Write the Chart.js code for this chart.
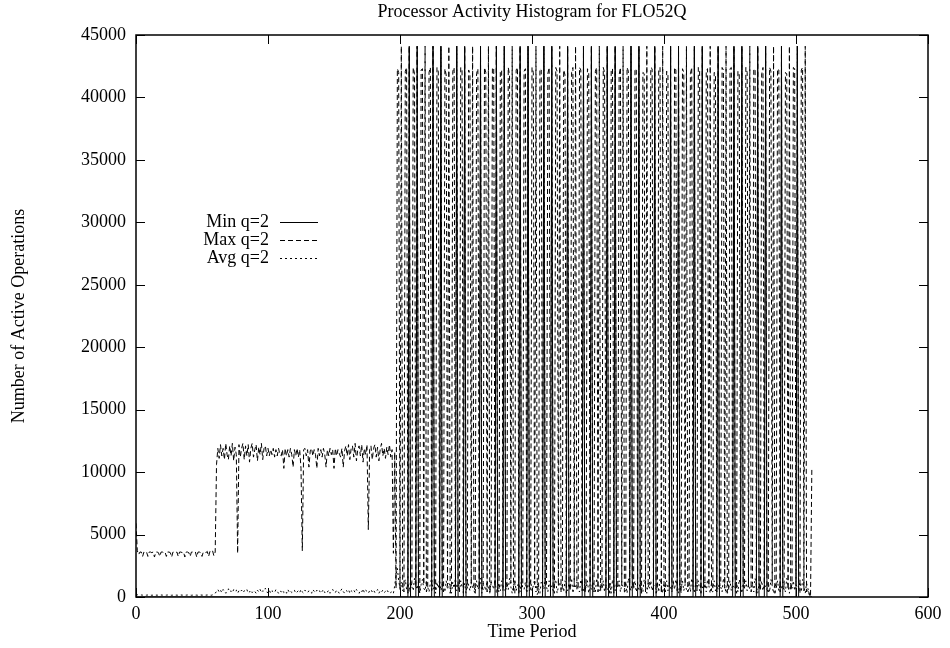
<!DOCTYPE html>
<html>
<head>
<meta charset="utf-8">
<title>Processor Activity Histogram for FLO52Q</title>
<script src="https://cdn.jsdelivr.net/npm/chart.js@4.4.1/dist/chart.umd.min.js"></script>
<style>
  html, body { margin: 0; padding: 0; background: #fff; }
  #wrap { width: 950px; height: 648px; }
</style>
</head>
<body>
<div id="wrap"><canvas id="activityChart" width="950" height="648"></canvas></div>
<script>
const chartTitle = 'Processor Activity Histogram for FLO52Q';
const xAxisTitle = 'Time Period';
const yAxisTitle = 'Number of Active Operations';
const seriesNames = ['Min q=2', 'Max q=2', 'Avg q=2'];
const xTicks = [0, 100, 200, 300, 400, 500, 600];
const yTicks = [0, 5000, 10000, 15000, 20000, 25000, 30000, 35000, 40000, 45000];

// one sample per time period, 0 .. 512
const timePeriods = Array.from({ length: 513 }, (_, i) => i);

const maxValues = [
  5900, 3700, 3400, 3600, 3600, 3250, 3600, 3550, 3600, 3250,
  3600, 3600, 3550, 3600, 3200, 3600, 3600, 3550, 3250, 3600,
  3600, 3550, 3600, 3250, 3600, 3600, 3550, 3200, 3600, 3600,
  3550, 3600, 3250, 3600, 3600, 3550, 3600, 3200, 3600, 3600,
  3550, 3250, 3600, 3600, 3550, 3600, 3200, 3600, 3600, 3550,
  3250, 3600, 3600, 3550, 3650, 3250, 3650, 3600, 3700, 3300,
  3600, 10600, 11900, 11100, 12200, 11300, 11900, 11000, 12300, 11400,
  11000, 12100, 11300, 12300, 10900, 12000, 11400, 3500, 12200, 11200,
  11900, 12300, 11000, 12100, 11300, 12200, 10800, 11900, 12300, 11200,
  11800, 12200, 10900, 12000, 11400, 12300, 11000, 11900, 12100, 11300,
  11900, 11300, 11800, 11400, 11900, 11200, 11800, 11300, 11900, 11400,
  11300, 11800, 10300, 11900, 11300, 11800, 11200, 11900, 11400, 10400,
  11800, 11300, 11900, 11200, 11800, 10300, 3700, 11800, 11900, 11300,
  11800, 10400, 11700, 11900, 11300, 11800, 11400, 10300, 11900, 11300,
  11800, 11200, 11900, 11400, 10400, 11800, 11300, 11900, 11400, 11800,
  10300, 11900, 11300, 11800, 11500, 11200, 11900, 10400, 11700, 12100,
  11300, 12200, 11000, 11900, 12100, 11200, 12300, 10900, 11800, 12100,
  11300, 12200, 10800, 11900, 11400, 12200, 5400, 11800, 12100, 11000,
  11900, 12200, 11200, 12000, 10900, 11800, 12300, 11300, 11900, 11100,
  12000, 11400, 12200, 11200, 11800, 3500, 11600, 700,
  // from period 198 the load swings every few periods
  42300, 42000, 600, 44100, 900, 400,
  42100, 42400, 300, 44100, 700, 1100,
  42400, 41900, 800, 44100, 500, 300,
  42200, 42300, 1000, 44100, 400, 800,
  42000, 42400, 500, 44100, 1100, 600,
  42400, 42100, 200, 44100, 800, 400,
  42300, 41800, 900, 44100, 300, 1000,
  42100, 42400, 600, 44100, 700, 500,
  42400, 42200, 300, 44100, 1200, 700,
  42200, 41900, 1000, 44100, 500, 300,
  41900, 42300, 700, 44100, 900, 600,
  42400, 42000, 400, 44100, 300, 1100,
  42300, 42400, 800, 44100, 600, 400,
  42000, 42200, 500, 44100, 1000, 700,
  42400, 41800, 1100, 44100, 400, 300,
  42200, 42400, 300, 44100, 800, 900,
  42100, 42300, 700, 44100, 500, 600,
  42400, 42000, 1000, 44100, 200, 400,
  42300, 42200, 400, 44100, 900, 1100,
  41900, 42400, 600, 44100, 700, 300,
  42400, 42100, 900, 44100, 400, 800,
  42200, 41800, 300, 44100, 1100, 500,
  42000, 42400, 800, 44100, 600, 700,
  42400, 42200, 500, 44100, 300, 1000,
  42300, 41900, 1100, 44100, 800, 400,
  42100, 42400, 400, 44100, 500, 600,
  42400, 42000, 700, 44100, 1000, 300,
  42200, 42300, 300, 44100, 700, 900,
  41800, 42400, 900, 44100, 400, 500,
  42400, 42100, 600, 44100, 1200, 700,
  42300, 42200, 1000, 44100, 500, 300,
  42000, 41900, 400, 44100, 800, 1100,
  42400, 42300, 700, 44100, 300, 600,
  42200, 42400, 300, 44100, 900, 400,
  42100, 41800, 800, 44100, 600, 1000,
  42400, 42200, 500, 44100, 1100, 300,
  42300, 42000, 1000, 44100, 400, 700,
  41900, 42400, 600, 44100, 700, 500,
  42400, 42100, 300, 44100, 1000, 800,
  42200, 42300, 900, 44100, 500, 400,
  42000, 41900, 400, 44100, 800, 1100,
  42400, 42200, 700, 44100, 300, 600,
  42300, 42400, 1100, 44100, 600, 300,
  42100, 41800, 500, 44100, 900, 700,
  42400, 42000, 800, 44100, 400, 1000,
  42200, 42300, 300, 44100, 1100, 500,
  41900, 42400, 700, 44100, 600, 400,
  42400, 42100, 1000, 44100, 300, 800,
  42300, 42200, 400, 44100, 800, 600,
  42000, 41900, 600, 44100, 500, 1100,
  42400, 42300, 900, 44100, 700, 300,
  42200, 42400, 500, 44100, 400, 600,
  300, 0, 10300
];

const avgValues = [
  200, 180, 150, 150, 160, 150, 150, 140, 150, 160, 150, 150, 140, 150, 160, 150, 150, 140, 150, 160,
  150, 150, 140, 150, 160, 150, 150, 140, 150, 160, 150, 150, 140, 150, 160, 150, 150, 140, 150, 160,
  150, 150, 140, 150, 160, 150, 150, 140, 150, 160, 150, 150, 140, 150, 160, 150, 150, 140, 170, 200,
  300, 450, 600, 400, 550, 350, 600, 450, 300, 550, 650, 400, 500, 350, 600, 450, 550, 300, 500, 400,
  550, 350, 500, 450, 600, 300, 400, 550, 350, 500, 450, 300, 550, 400, 600, 350, 500, 450, 700, 400,
  350, 550, 300, 500, 400, 350, 600, 450, 300, 500, 400, 550, 350, 450, 300, 600, 400, 500, 350, 450,
  550, 300, 400, 500, 350, 600, 400, 300, 550, 450, 350, 500, 400, 300, 600, 450, 350, 550, 400, 500,
  300, 450, 600, 350, 500, 400, 550, 300, 450, 600, 400, 350, 550, 450, 300, 500, 650, 400, 350, 550,
  450, 600, 300, 500, 400, 550, 350, 600, 450, 300, 500, 400, 650, 350, 550, 450, 300, 500, 600, 400,
  550, 350, 450, 600, 300, 500, 400, 550, 350, 450, 600, 400, 500, 350, 450, 300, 900, 1800, 2300, 1300,
  700, 1200, 500, 900, 1400, 600, 1100, 400, 1300, 800, 500, 1500, 900, 600, 1200, 300, 1000, 1400, 700, 500,
  1300, 800, 400, 1100, 1500, 600, 900, 300, 1200, 700, 1400, 500, 1000, 800, 400, 1300, 600, 1100, 900, 300,
  1200, 700, 1500, 500, 1000, 400, 1300, 800, 600, 1100, 300, 1400, 900, 500, 1200, 700, 1000, 400, 1300, 600,
  800, 1500, 300, 1100, 900, 500, 1300, 700, 400, 1200, 1000, 600, 1400, 300, 800, 1100, 500, 1300, 900, 700,
  400, 1200, 600, 1500, 800, 300, 1000, 1300, 500, 900, 1100, 400, 1400, 700, 600, 1200, 300, 1000, 800, 1300,
  500, 900, 1400, 400, 1100, 700, 300, 1200, 1000, 600, 1500, 800, 400, 1300, 700, 900, 500, 1100, 1400, 300,
  800, 1200, 600, 1000, 400, 1300, 900, 500, 1100, 700, 1500, 300, 1000, 800, 1200, 600, 400, 1400, 900, 500,
  1100, 700, 1300, 300, 1000, 600, 1200, 800, 400, 1500, 900, 500, 1100, 700, 1300, 400, 1000, 600, 800, 1200,
  300, 1400, 900, 500, 1100, 700, 1300, 400, 1000, 800, 600, 1200, 300, 1500, 900, 500, 1100, 700, 1300, 400,
  1000, 600, 1200, 800, 400, 1400, 900, 300, 1100, 700, 1300, 500, 1000, 800, 600, 1200, 400, 1500, 900, 300,
  1100, 700, 1300, 500, 1000, 800, 400, 1200, 600, 1400, 900, 300, 1100, 700, 1300, 500, 1000, 600, 800, 1200,
  400, 1500, 900, 300, 1100, 700, 1300, 500, 1000, 800, 600, 1200, 400, 1400, 900, 300, 1100, 700, 1300, 500,
  1000, 600, 1200, 800, 400, 1500, 900, 300, 1100, 700, 1300, 500, 1000, 800, 600, 1200, 400, 1400, 900, 300,
  1100, 700, 1300, 500, 1000, 600, 800, 1200, 400, 1500, 900, 300, 1100, 700, 1300, 500, 1000, 800, 600, 1200,
  400, 1400, 900, 300, 1100, 700, 1300, 500, 1000, 600, 1200, 800, 400, 1500, 900, 300, 1100, 700, 1300, 500,
  1000, 800, 600, 1200, 400, 1400, 900, 300, 1100, 700, 200, 0, 0
];

// Min sits on the zero line except at these peaks
const minTimes = [
  0,
  206, 207, 208, 212, 213, 214, 224, 225, 226, 230, 231, 232,
  242, 243, 244, 248, 249, 250, 260, 261, 262, 272, 273, 274,
  278, 279, 280, 290, 291, 292, 296, 297, 298, 308, 309, 310,
  314, 315, 316, 326, 327, 328, 338, 339, 340, 344, 345, 346,
  356, 357, 358, 362, 363, 364, 374, 375, 376, 380, 381, 382,
  392, 393, 394, 404, 405, 406, 410, 411, 412, 422, 423, 424,
  428, 429, 430, 440, 441, 442, 452, 453, 454, 458, 459, 460,
  470, 471, 472, 476, 477, 478, 488, 489, 490, 500, 501, 502,
  512
];
const minValues = [
  0,
  0, 44100, 0, 0, 44100, 0, 0, 44100, 0, 0, 44100, 0,
  0, 44100, 0, 0, 44100, 0, 0, 44100, 0, 0, 44100, 0,
  0, 44100, 0, 0, 44100, 0, 0, 44100, 0, 0, 44100, 0,
  0, 44100, 0, 0, 44100, 0, 0, 44100, 0, 0, 44100, 0,
  0, 44100, 0, 0, 44100, 0, 0, 44100, 0, 0, 44100, 0,
  0, 44100, 0, 0, 44100, 0, 0, 44100, 0, 0, 44100, 0,
  0, 44100, 0, 0, 44100, 0, 0, 44100, 0, 0, 44100, 0,
  0, 44100, 0, 0, 44100, 0, 0, 44100, 0, 0, 44100, 0,
  0
];

const FONT = '"Liberation Serif", "Times New Roman", serif';
const FONT_SIZE = 18;
const MAX_DASH = [5, 3];
const AVG_DASH = [2, 3];

function toPoints(xs, ys) {
  return xs.map((x, i) => ({ x, y: ys[i] }));
}

// gnuplot style frame: full box, ticks pointing inwards, key and titles as plain text
const gnuplotFrame = {
  id: 'gnuplotFrame',
  afterDraw(chart) {
    const { ctx, chartArea: a, scales } = chart;
    const left = Math.round(a.left), right = Math.round(a.right);
    const top = Math.round(a.top), bottom = Math.round(a.bottom);
    const tick = 9;

    ctx.save();
    ctx.strokeStyle = '#000';
    ctx.lineWidth = 1.5;
    ctx.setLineDash([]);
    ctx.strokeRect(left, top, right - left, bottom - top);

    ctx.lineWidth = 1;
    ctx.beginPath();
    yTicks.forEach(v => {
      const py = Math.round(scales.y.getPixelForValue(v)) + 0.5;
      ctx.moveTo(left, py); ctx.lineTo(left + tick, py);
      ctx.moveTo(right, py); ctx.lineTo(right - tick, py);
    });
    xTicks.forEach(v => {
      const px = Math.round(scales.x.getPixelForValue(v)) + 0.5;
      ctx.moveTo(px, bottom); ctx.lineTo(px, bottom - tick);
      ctx.moveTo(px, top); ctx.lineTo(px, top + tick);
    });
    ctx.stroke();

    ctx.fillStyle = '#000';
    ctx.font = `${FONT_SIZE}px ${FONT}`;
    ctx.textBaseline = 'middle';
    ctx.textAlign = 'center';
    ctx.fillText(chartTitle, (left + right) / 2, 12);
    ctx.fillText(xAxisTitle, (left + right) / 2, 632);

    ctx.save();
    ctx.translate(19, (top + bottom) / 2);
    ctx.rotate(-Math.PI / 2);
    ctx.fillText(yAxisTitle, 0, 0);
    ctx.restore();

    // key
    const keyRows = [222, 240, 258];
    const keyDashes = [[], MAX_DASH, AVG_DASH];
    const textRight = left + 133;
    keyRows.forEach((ry, i) => {
      ctx.textAlign = 'right';
      ctx.fillText(seriesNames[i], textRight, ry);
      ctx.setLineDash(keyDashes[i]);
      ctx.beginPath();
      ctx.moveTo(left + 144, ry + 0.5);
      ctx.lineTo(left + 182, ry + 0.5);
      ctx.stroke();
    });
    ctx.restore();
  }
};

const lineBase = {
  borderColor: '#000',
  borderWidth: 1,
  pointRadius: 0,
  pointHoverRadius: 0,
  tension: 0,
  fill: false
};

new Chart(document.getElementById('activityChart'), {
  type: 'line',
  data: {
    datasets: [
      { ...lineBase, label: seriesNames[0], data: toPoints(minTimes, minValues), order: 3 },
      { ...lineBase, label: seriesNames[1], data: toPoints(timePeriods, maxValues), borderDash: MAX_DASH, order: 2 },
      { ...lineBase, label: seriesNames[2], data: toPoints(timePeriods, avgValues), borderDash: AVG_DASH, order: 1 }
    ]
  },
  options: {
    responsive: false,
    animation: false,
    events: [],
    layout: { padding: { top: 35, right: 22, left: 0, bottom: 0 } },
    plugins: {
      legend: { display: false },
      title: { display: false },
      tooltip: { enabled: false }
    },
    scales: {
      x: {
        type: 'linear',
        min: 0,
        max: 600,
        afterBuildTicks: scale => { scale.ticks = xTicks.map(v => ({ value: v })); },
        afterFit: scale => { scale.height = 51; },
        grid: { display: false, drawTicks: false },
        border: { display: false },
        ticks: {
          color: '#000',
          font: { family: FONT, size: FONT_SIZE },
          padding: 6,
          maxRotation: 0,
          autoSkip: false,
          callback: v => String(v)
        }
      },
      y: {
        type: 'linear',
        min: 0,
        max: 45000,
        afterBuildTicks: scale => { scale.ticks = yTicks.map(v => ({ value: v })); },
        afterFit: scale => { scale.width = 136; },
        grid: { display: false, drawTicks: false },
        border: { display: false },
        ticks: {
          color: '#000',
          font: { family: FONT, size: FONT_SIZE },
          padding: 10,
          autoSkip: false,
          callback: v => String(v)
        }
      }
    }
  },
  plugins: [gnuplotFrame]
});
</script>
</body>
</html>
